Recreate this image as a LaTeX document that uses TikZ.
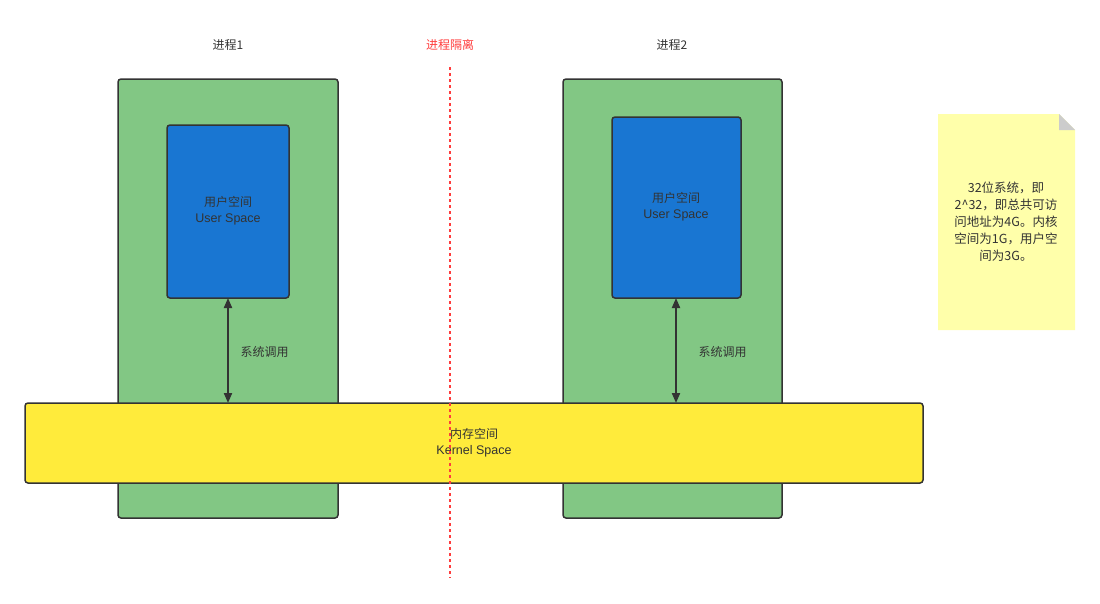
\documentclass[tikz,border=0pt]{standalone}
\usepackage{fontspec}
\setmainfont{Noto Sans CJK SC}
\newfontfamily\latinf{Liberation Sans}
\usetikzlibrary{arrows.meta}
\definecolor{gfill}{RGB}{130,199,132}
\definecolor{bfill}{RGB}{25,118,210}
\definecolor{yfill}{RGB}{255,235,59}
\definecolor{nfill}{RGB}{255,255,170}
\definecolor{edge}{RGB}{51,51,51}
\definecolor{redline}{RGB}{255,60,60}
\tikzset{
  procbox/.style={draw=edge, fill=gfill, line width=1.5pt, rounded corners=3pt},
  userbox/.style={draw=edge, fill=bfill, line width=1.5pt, rounded corners=3pt},
  kernbox/.style={draw=edge, fill=yfill, line width=1.5pt, rounded corners=3pt},
  lbl/.style={text=edge, font=\fontsize{12}{16}\selectfont, align=center},
  syscall/.style={draw=edge, line width=2pt, {Triangle[length=10pt,width=8pt]}-{Triangle[length=10pt,width=8pt]}}
}
\begin{document}
\begin{tikzpicture}[x=1pt,y=-1pt]
\useasboundingbox (0,0) rectangle (1100,603);
% process boxes
\draw[procbox] (118,79) rectangle (338,518);
\draw[procbox] (563,79) rectangle (782,518);
\node[lbl] (p1) at (228,45) {进程1};
\node[lbl] (p2) at (672,45) {进程2};
% user spaces
\draw[userbox] (167,125) rectangle (289,298);
\node[lbl] (u1) at (228,211) {用户空间\\{\latinf\fontsize{12.5}{16}\selectfont User Space}};
\coordinate (u1b) at (228,298);
\draw[userbox] (612,117) rectangle (741,298);
\node[lbl] (u2) at (676,207) {用户空间\\{\latinf\fontsize{12.5}{16}\selectfont User Space}};
\coordinate (u2b) at (676,298);
% kernel
\draw[kernbox] (25,403) rectangle (923,483);
\node[lbl] (k) at (474,443) {内存空间\\{\latinf\fontsize{12.5}{16}\selectfont Kernel Space}};
\coordinate (k1) at (228,403);
\coordinate (k2) at (676,403);
% syscalls
\draw[syscall] (u1b) -- (k1);
\draw[syscall] (u2b) -- (k2);
\node[lbl, anchor=west] (s1) at (237,352) {系统调用};
\node[lbl, anchor=west] (s2) at (695,352) {系统调用};
% isolation
\node[lbl, text=redline] (iso) at (450,45) {进程隔离};
\coordinate (isoT) at (450,67);
\coordinate (isoB) at (450,578);
\draw[redline, line width=1.5pt, dash pattern=on 3pt off 3pt] (isoT) -- (isoB);
% note
\fill[nfill] (938,114) -- (1059,114) -- (1075,130) -- (1075,330) -- (938,330) -- cycle;
\fill[gray!40] (1059,114) -- (1075,130) -- (1059,130) -- cycle;
\node[lbl, font=\fontsize{12.5}{17}\selectfont] (note) at (1006,222) {32位系统，即\\2\^{}32，即总共可访\\问地址为4G。内核\\空间为1G，用户空\\间为3G。};
\end{tikzpicture}
\end{document}
